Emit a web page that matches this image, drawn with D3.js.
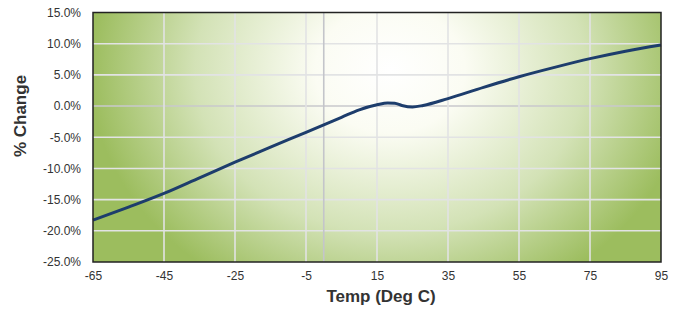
<html>
<head>
  <meta charset="utf-8">
  <title>Temp change</title>
  <script src="https://d3js.org/d3.v7.min.js"></script>
  <style>
    body { margin: 0; background: #fff; }
    text { font-family: "Liberation Sans", Arial, sans-serif; }
  </style>
</head>
<body>
<script>
    // values
    var temps = [-65, -55, -45, -35, -25, -15, -5, 0, 5, 10, 15, 18, 20, 22, 25, 28, 35, 45, 55, 65, 75, 85, 95];
    var pctChange = [-18.3, -16.2, -14.0, -11.5, -9.0, -6.6, -4.2, -3.0, -1.8, -0.6, 0.2, 0.5, 0.45, 0.1, -0.15, 0.1, 1.2, 3.0, 4.7, 6.2, 7.6, 8.8, 9.8];
    var xTicks = [-65, -45, -25, -5, 15, 35, 55, 75, 95];
    var yTicks = [15, 10, 5, 0, -5, -10, -15, -20, -25];

    var width = 679;
    var height = 310;
    // plot box (pixels)
    var pLeft = 93, pRight = 661, pTop = 12.5, pBottom = 262;

    var svg = d3.select('body')
                .append('svg')
                .attr('width', width)
                .attr('height', height);

    var x = d3.scaleLinear().domain([-65, 95]).range([pLeft, pRight]);
    var y = d3.scaleLinear().domain([-25, 15]).range([pBottom, pTop]);

    // background glow
    var defs = svg.append('defs');
    var grad = defs.append('radialGradient')
        .attr('id', 'bg')
        .attr('gradientUnits', 'userSpaceOnUse')
        .attr('cx', 0).attr('cy', 0).attr('r', 1)
        .attr('gradientTransform', 'translate(390,70) scale(300,250)');
    grad.append('stop').attr('offset', 0).attr('stop-color', '#ffffff');
    grad.append('stop').attr('offset', 0.25).attr('stop-color', '#fbfcf3');
    grad.append('stop').attr('offset', 0.65).attr('stop-color', '#d3e2b6');
    grad.append('stop').attr('offset', 1).attr('stop-color', '#9cbd5e');

    svg.append('rect')
        .attr('x', pLeft).attr('y', pTop)
        .attr('width', pRight - pLeft).attr('height', pBottom - pTop)
        .attr('fill', 'url(#bg)');

    // grid
    var grid = svg.append('g');
    grid.selectAll('.h')
        .data(yTicks.filter(d => d != 15 && d != -25))
        .enter()
        .append('line')
        .attr('x1', pLeft).attr('x2', pRight)
        .attr('y1', d => y(d)).attr('y2', d => y(d))
        .attr('stroke', d => d == 0 ? '#c8c9cc' : '#e2e3e4')
        .attr('stroke-width', 1.6);
    grid.selectAll('.v')
        .data(xTicks.filter(d => d != -65 && d != 95).concat([0]))
        .enter()
        .append('line')
        .attr('y1', pTop).attr('y2', pBottom)
        .attr('x1', d => x(d)).attr('x2', d => x(d))
        .attr('stroke', d => d == 0 ? '#c4c5ca' : '#e2e3e4')
        .attr('stroke-width', 1.6);

    // curve
    var line = d3.line()
        .x(d => x(d[0]))
        .y(d => y(d[1]))
        .curve(d3.curveMonotoneX);
    svg.append('path')
        .datum(d3.zip(temps, pctChange))
        .attr('fill', 'none')
        .attr('stroke', '#1d3d6c')
        .attr('stroke-width', 3)
        .attr('d', line);

    // frame
    svg.append('rect')
        .attr('x', pLeft).attr('y', pTop)
        .attr('width', pRight - pLeft).attr('height', pBottom - pTop)
        .attr('fill', 'none')
        .attr('stroke', '#222')
        .attr('stroke-width', 1.5);

    // axes
    var xAxis = svg.append('g')
        .attr('transform', 'translate(0,' + pBottom + ')')
        .call(d3.axisBottom(x).tickValues(xTicks).tickSize(0).tickPadding(9).tickFormat(d => String(d)));
    xAxis.select('.domain').remove();
    xAxis.selectAll('text').attr('font-size', 12).attr('fill', '#333')
        .style('font-family', '"Liberation Sans", Arial, sans-serif');

    var yAxis = svg.append('g')
        .attr('transform', 'translate(' + (pLeft - 12) + ',0)')
        .call(d3.axisLeft(y).tickValues(yTicks).tickSize(0).tickPadding(0).tickFormat(d => d.toFixed(1) + '%'));
    yAxis.select('.domain').remove();
    yAxis.selectAll('text').attr('font-size', 12).attr('fill', '#333')
        .style('font-family', '"Liberation Sans", Arial, sans-serif');

    svg.append('text')
        .attr('x', 381).attr('y', 302)
        .attr('text-anchor', 'middle')
        .attr('font-size', 17).attr('font-weight', 'bold').attr('fill', '#333')
        .text('Temp (Deg C)');

    svg.append('text')
        .attr('transform', 'translate(26,116) rotate(-90)')
        .attr('text-anchor', 'middle')
        .attr('font-size', 17).attr('font-weight', 'bold').attr('fill', '#333')
        .text('% Change');
</script>
</body>
</html>
